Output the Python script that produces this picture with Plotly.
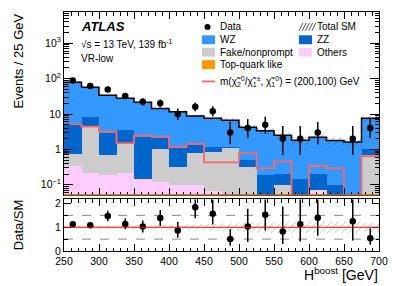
import plotly.graph_objects as go
import math

# ---------------- data ----------------
bin_edges = [250, 275, 300, 325, 350, 375, 400, 425, 450, 475, 500,
             525, 550, 575, 600, 625, 650, 675, 700]

data = [89, 62, 49, 32, 22, 20, 10, 16, 12, 3, 4, 5, 2, 2, 3, 0, 2, 4]
data_err_up = [10.5, 8.9, 8.0, 6.7, 5.7, 5.5, 4.3, 5.1, 4.5, 2.9, 3.2, 3.4, 2.6, 2.6, 2.9, 0, 2.6, 3.2]
data_err_dn = [9.4, 7.8, 7.0, 5.6, 4.7, 4.4, 3.1, 4.0, 3.4, 1.6, 1.9, 2.2, 1.3, 1.3, 1.6, 0, 1.3, 1.9]

ratio = [1.13, 1.08, 1.47, 1.14, 1.03, 1.39, 0.86, 1.84, 1.57, 0.50, 1.03, 1.53,
         0.82, 1.13, 1.40, None, 1.25, 0.54]
ratio_err_up = [0.12, 0.11, 0.22, 0.23, 0.25, 0.34, 0.36, 0.55, 0.6, 0.42, 0.75, 1.0,
                1.05, 1.4, 1.3, 0, 1.5, 0.42]
ratio_err_dn = [0.12, 0.11, 0.22, 0.23, 0.25, 0.34, 0.30, 0.46, 0.45, 0.28, 0.65, 0.67,
                0.53, 0.73, 0.76, 0, 0.81, 0.28]

# stacked backgrounds (bottom -> top)
top_quark = [0.004] * 18
others = [0.337, 0.21, 0.186, 0.21, 0.144, 0.116, 0.094, 0.094, 0.065, 0, 0, 0,
          0, 0, 0.068, 0, 0, 0]
fake = [0.42, 3.99, 0.49, 1.23, 0, 0.93, 0.23, 0.67, 0.78, 1.1, 0.32, 0,
        0.094, 0, 0, 0, 0, 0.70]
zz = [4.64, 4.1, 2.32, 2.06, 2.16, 1.05, 0.78, 0.53, 0.29, 0.10, 0.17, 0.19,
      0.106, 0.144, 0.132, 0.094, 0, 0.35]
wz = [73.6, 48.7, 31.0, 24.5, 19.2, 12.3, 10.5, 7.5, 6.47, 5.5, 3.71, 3.16,
      2.3, 1.66, 2.0, 1.69, 1.62, 6.55]
sm_rel_unc = [0.07, 0.07, 0.08, 0.08, 0.09, 0.10, 0.10, 0.12, 0.14, 0.16, 0.20, 0.22,
              0.22, 0.25, 0.22, 0.25, 0.25, 0.20]

signal = [5.2, 4.4, 3.16, 1.5, 2.45, 2.3, 1.16, 1.44, 0.43, 0.43, 0.8, 0.29,
          0.46, 0, 0.34, 0.29, 0, 0.64]

# ---------------- styling ----------------
C_WZ = "#3399ff"
C_ZZ = "#0066cc"
C_FAKE = "#cccccc"
C_OTH = "#ffccff"
C_TOP = "#ff9900"
C_SIG = "#ff6666"
FONT = "Liberation Sans"

W, H = 399, 286
ML, MR, MT, MB = 64, 20, 10, 35
PW, PH = W - ML - MR, H - MT - MB


def px(x):
    return (x - ML) / PW


def py(y):
    return (H - MB - y) / PH


centers = [(a + b) / 2 for a, b in zip(bin_edges[:-1], bin_edges[1:])]
widths = [b - a for a, b in zip(bin_edges[:-1], bin_edges[1:])]
sm = [a + b + c + d + e for a, b, c, d, e in zip(top_quark, others, fake, zz, wz)]

fig = go.Figure()

for vals, col in [(top_quark, C_TOP), (others, C_OTH), (fake, C_FAKE), (zz, C_ZZ), (wz, C_WZ)]:
    fig.add_trace(go.Bar(x=centers, y=vals, width=widths, marker=dict(color=col, line=dict(width=0)),
                         xaxis="x", yaxis="y", showlegend=False, hoverinfo="skip"))

# uncertainty hatch band (main)
bx, bup, blo = [], [], []
for (a, b), s, u in zip(zip(bin_edges[:-1], bin_edges[1:]), sm, sm_rel_unc):
    bx += [a, b]
    bup += [s * (1 + u)] * 2
    blo += [s * (1 - u)] * 2
fig.add_trace(go.Scatter(x=bx + bx[::-1], y=bup + blo[::-1], fill="toself", mode="lines",
                         line=dict(width=0), fillcolor="rgba(0,0,0,0)",
                         fillpattern=dict(shape="/", fgcolor="#222222", bgcolor="rgba(0,0,0,0)", size=5, solidity=0.15),
                         xaxis="x", yaxis="y", showlegend=False, hoverinfo="skip"))

# SM total line
fig.add_trace(go.Scatter(x=bin_edges, y=sm + [sm[-1]], mode="lines", line=dict(color="black", width=1.5, shape="hv"),
                         xaxis="x", yaxis="y", showlegend=False, hoverinfo="skip"))

# signal line (zero bins drop below axis)
sig_plot = [v if v > 0 else 1e-4 for v in signal]
fig.add_trace(go.Scatter(x=bin_edges, y=sig_plot + [sig_plot[-1]], mode="lines",
                         line=dict(color=C_SIG, width=1.8, shape="hv"),
                         xaxis="x", yaxis="y", showlegend=False, hoverinfo="skip"))

# data
dx = [c for c, d in zip(centers, data) if d > 0]
dy = [d for d in data if d > 0]
deu = [e for e, d in zip(data_err_up, data) if d > 0]
ded = [e for e, d in zip(data_err_dn, data) if d > 0]
fig.add_trace(go.Scatter(x=dx, y=dy, mode="markers", marker=dict(color="black", size=6.5),
                         error_y=dict(type="data", array=deu, arrayminus=ded, color="black", thickness=1.5, width=0),
                         xaxis="x", yaxis="y", showlegend=False))

# ratio band
rx, rup, rlo = [], [], []
for (a, b), u in zip(zip(bin_edges[:-1], bin_edges[1:]), sm_rel_unc):
    rx += [a, b]
    rup += [1 + u] * 2
    rlo += [1 - u] * 2
fig.add_trace(go.Scatter(x=rx + rx[::-1], y=rup + rlo[::-1], fill="toself", mode="lines",
                         line=dict(width=0), fillcolor="rgba(0,0,0,0)",
                         fillpattern=dict(shape="/", fgcolor="#555555", bgcolor="rgba(0,0,0,0)", size=5, solidity=0.15),
                         xaxis="x2", yaxis="y2", showlegend=False, hoverinfo="skip"))

rxs = [c for c, r in zip(centers, ratio) if r is not None]
rys = [r for r in ratio if r is not None]
reu = [e for e, r in zip(ratio_err_up, ratio) if r is not None]
red = [e for e, r in zip(ratio_err_dn, ratio) if r is not None]
fig.add_trace(go.Scatter(x=rxs, y=rys, mode="markers", marker=dict(color="black", size=6.5),
                         error_y=dict(type="data", array=reu, arrayminus=red, color="black", thickness=1.5, width=0),
                         xaxis="x2", yaxis="y2", showlegend=False))

shapes = []
for yv in [0.5, 1.5]:
    shapes.append(dict(type="line", xref="x2", yref="y2", x0=250, x1=700, y0=yv, y1=yv,
                       line=dict(color="#888888", width=1, dash="dash"), layer="below"))
shapes.append(dict(type="line", xref="x2", yref="y2", x0=250, x1=700, y0=1, y1=1,
                   line=dict(color="red", width=1.2)))
# brown bottom line of main panel
shapes.append(dict(type="line", xref="paper", yref="paper", x0=0, x1=1, y0=py(194.5), y1=py(194.5),
                   line=dict(color="#b5651d", width=1.5)))

annotations = []


def text(x, y, s, size=10, xanchor="left", yanchor="middle", **kw):
    annotations.append(dict(x=px(x), y=py(y), xref="paper", yref="paper", text=s, showarrow=False,
                            xanchor=xanchor, yanchor=yanchor, font=dict(family=FONT, size=size, color="black"), **kw))


text(79, 25, "<b><i>ATLAS</i></b>", size=13)
text(79, 42, "√s = 13 TeV, 139 fb<sup>-1</sup>", size=10)
text(79, 57, "VR-low", size=10)

# legend
LX1, LX2 = 202, 299
fig_legend_boxes = [
    (LX1, 38, C_WZ, "WZ"), (LX2, 38, C_ZZ, "ZZ"),
    (LX1, 50.5, C_FAKE, "Fake/nonprompt"), (LX2, 50.5, C_OTH, "Others"),
    (LX1, 63, C_TOP, "Top-quark like"),
]
for x0, yc, col, lab in fig_legend_boxes:
    shapes.append(dict(type="rect", xref="paper", yref="paper", x0=px(x0), x1=px(x0 + 13),
                       y0=py(yc + 4.5), y1=py(yc - 4.5), fillcolor=col, line=dict(width=0)))
    text(x0 + 16, yc, lab)

shapes.append(dict(type="circle", xref="paper", yref="paper", x0=px(204.5), x1=px(210.5),
                   y0=py(28), y1=py(22), fillcolor="black", line=dict(width=0)))
text(LX1 + 16, 25, "Data")
# hatch icon for Total SM
for k in range(5):
    xa = LX2 + k * 3.2
    shapes.append(dict(type="line", xref="paper", yref="paper", x0=px(xa), x1=px(xa + 4),
                       y0=py(29), y1=py(21), line=dict(color="#222222", width=0.8)))
text(LX2 + 16, 25, "Total SM")
shapes.append(dict(type="line", xref="paper", yref="paper", x0=px(LX1), x1=px(LX1 + 13),
                   y0=py(80), y1=py(80), line=dict(color=C_SIG, width=1.8)))
text(LX1 + 16, 80, "m(χ̃<sub>2</sub><sup>0</sup>/χ̃<sub>1</sub><sup>±</sup>, χ̃<sub>1</sub><sup>0</sup>) = (200,100) GeV")

# axis titles
annotations.append(dict(x=px(18), y=py(10), xref="paper", yref="paper", text="Events / 25 GeV", showarrow=False,
                        textangle=-90, xanchor="center", yanchor="top", font=dict(family=FONT, size=13, color="black")))
annotations.append(dict(x=px(18), y=py(225), xref="paper", yref="paper", text="Data/SM", showarrow=False,
                        textangle=-90, xanchor="center", yanchor="middle", font=dict(family=FONT, size=13, color="black")))
annotations.append(dict(x=px(380), y=py(274), xref="paper", yref="paper", text="H<sup>boost</sup> [GeV]", showarrow=False,
                        xanchor="right", yanchor="middle", font=dict(family=FONT, size=14, color="black")))

minor_log = [m * 10 ** e for e in range(-2, 4) for m in range(2, 10)]

axis_common = dict(showline=True, linecolor="black", linewidth=1, mirror="ticks", ticks="inside",
                   tickcolor="black", showgrid=False, zeroline=False,
                   tickfont=dict(family=FONT, size=10.5, color="black"))

fig.update_layout(
    width=W, height=H, autosize=False,
    margin=dict(l=ML, r=MR, t=MT, b=MB),
    paper_bgcolor="white", plot_bgcolor="white",
    barmode="stack", bargap=0,
    showlegend=False,
    xaxis=dict(domain=[0, 1], anchor="y", range=[250, 700], tickvals=list(range(250, 701, 50)),
               showticklabels=False, ticklen=7,
               minor=dict(dtick=10, tick0=250, ticks="inside", ticklen=3.5, tickcolor="black"), **axis_common),
    yaxis=dict(domain=[py(195), 1], anchor="x", type="log", range=[math.log10(0.05), math.log10(7600)],
               tickvals=[0.1, 1, 10, 100, 1000],
               ticktext=["10<sup>−1</sup>", "1", "10", "10<sup>2</sup>", "10<sup>3</sup>"], ticklen=9,
               minor=dict(tickvals=minor_log, ticks="inside", ticklen=4.5, tickcolor="black"), **axis_common),
    xaxis2=dict(domain=[0, 1], anchor="y2", matches="x", range=[250, 700], tickvals=list(range(250, 701, 50)),
                ticklen=7, minor=dict(dtick=10, tick0=250, ticks="inside", ticklen=3.5, tickcolor="black"),
                **axis_common),
    yaxis2=dict(domain=[0, py(199)], anchor="x2", range=[0, 2.17], tickvals=[0, 1, 2], ticklen=7,
                minor=dict(dtick=0.5, tick0=0, ticks="inside", ticklen=3.5, tickcolor="black"), **axis_common),
    shapes=shapes,
    annotations=annotations,
)

fig.write_html("out.html", config={"displayModeBar": False},
               post_script="document.body.style.margin='0';document.body.style.overflow='hidden';")
